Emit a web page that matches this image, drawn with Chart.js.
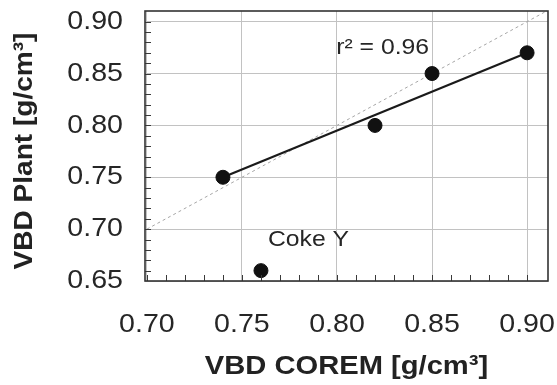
<!DOCTYPE html>
<html>
<head>
<meta charset="utf-8">
<script src="https://cdn.jsdelivr.net/npm/chart.js@4/dist/chart.umd.min.js"></script>
<style>
  html, body { margin: 0; padding: 0; background: #fff; }
  #wrap { width: 557px; height: 385px; }
</style>
</head>
<body>
<div id="wrap"><canvas id="c" width="557" height="385"></canvas></div>
<script>
// Coke bulk density: COREM oven test vs. plant measurement
const coremVbd = [0.74, 0.76, 0.82, 0.85, 0.90];
const plantVbd = [0.75, 0.66, 0.80, 0.85, 0.87];

// Least-squares fit through the four coke samples (Coke Y excluded)
const fitX = [0.74, 0.90];
const fitY = [0.75, 0.87];
const fitLabel = 'r² = 0.96';

// Parity (1:1) reference line
const parityX = [0.70, 0.911];
const parityY = [0.70, 0.911];

const outlierLabel = 'Coke Y';
const outlierAnchor = { x: 0.785, y: 0.69 };
const fitLabelAnchor = { x: 0.824, y: 0.875 };

const xTicks = [0.70, 0.75, 0.80, 0.85, 0.90];
const yTicks = [0.65, 0.70, 0.75, 0.80, 0.85, 0.90];

const xTitle = 'VBD COREM [g/cm³]';
const yTitle = 'VBD Plant [g/cm³]';

const FONT = "'Liberation Sans', Arial, Helvetica, sans-serif";
const TEXT = '#262626';
const GRID = '#c2c2c2';
const GLYPH_STRETCH = 1.1;

// The typeface used here is a wide grotesque; widen canvas text horizontally.
const wideText = {
  id: 'wideText',
  beforeInit(chart) {
    const ctx = chart.ctx;
    const fill = ctx.fillText.bind(ctx);
    const measure = ctx.measureText.bind(ctx);
    ctx.measureText = function (t) {
      const m = measure(t);
      return {
        width: m.width * GLYPH_STRETCH,
        actualBoundingBoxAscent: m.actualBoundingBoxAscent,
        actualBoundingBoxDescent: m.actualBoundingBoxDescent,
        actualBoundingBoxLeft: m.actualBoundingBoxLeft * GLYPH_STRETCH,
        actualBoundingBoxRight: m.actualBoundingBoxRight * GLYPH_STRETCH,
        fontBoundingBoxAscent: m.fontBoundingBoxAscent,
        fontBoundingBoxDescent: m.fontBoundingBoxDescent
      };
    };
    ctx.fillText = function (t, x, y) {
      ctx.save();
      ctx.translate(x, y);
      ctx.scale(GLYPH_STRETCH, 1);
      fill(t, 0, 0);
      ctx.restore();
    };
  }
};

// Frame around the plot, small inward ticks every 0.01, annotations and y title
const frameAndTicks = {
  id: 'frameAndTicks',
  afterDatasetsDraw(chart) {
    const { ctx, chartArea: a, scales: { x, y } } = chart;
    ctx.save();
    ctx.strokeStyle = '#3a3a3a';
    ctx.lineWidth = 1;
    ctx.beginPath();
    for (let i = 60; i <= 95; i++) {
      const px = Math.round(x.getPixelForValue(i / 100)) + 0.5;
      if (px > a.left + 2 && px < a.right - 2) {
        ctx.moveTo(px, a.bottom);
        ctx.lineTo(px, a.bottom - 6);
      }
      const py = Math.round(y.getPixelForValue(i / 100)) + 0.5;
      if (py > a.top + 2 && py < a.bottom - 2) {
        ctx.moveTo(a.left, py);
        ctx.lineTo(a.left + 6, py);
      }
    }
    ctx.stroke();
    ctx.lineWidth = 1.6;
    ctx.strokeStyle = '#333';
    ctx.strokeRect(a.left, a.top, a.right - a.left, a.bottom - a.top);
    ctx.restore();
  },
  afterDraw(chart) {
    const { ctx, chartArea: a, scales: { x, y } } = chart;
    ctx.save();
    ctx.fillStyle = TEXT;
    ctx.font = '22.5px ' + FONT;
    ctx.textAlign = 'center';
    ctx.textBaseline = 'middle';
    ctx.fillText(fitLabel, x.getPixelForValue(fitLabelAnchor.x), y.getPixelForValue(fitLabelAnchor.y));
    ctx.fillText(outlierLabel, x.getPixelForValue(outlierAnchor.x), y.getPixelForValue(outlierAnchor.y));
    ctx.restore();

    ctx.save();
    ctx.fillStyle = '#222';
    ctx.font = 'bold 25.5px ' + FONT;
    ctx.textAlign = 'center';
    ctx.textBaseline = 'middle';
    ctx.translate(25, (a.top + a.bottom) / 2 + 5);
    ctx.rotate(-Math.PI / 2);
    ctx.fillText(yTitle, 0, 0);
    ctx.restore();
  }
};

const pts = coremVbd.map((v, i) => ({ x: v, y: plantVbd[i] }));

new Chart(document.getElementById('c'), {
  type: 'scatter',
  data: {
    datasets: [
      {
        data: pts,
        backgroundColor: '#111',
        borderColor: '#111',
        pointRadius: 7,
        pointHoverRadius: 7,
        order: 0
      },
      {
        type: 'line',
        data: fitX.map((v, i) => ({ x: v, y: fitY[i] })),
        borderColor: '#1a1a1a',
        borderWidth: 2.2,
        pointRadius: 0,
        fill: false,
        order: 1
      },
      {
        type: 'line',
        data: parityX.map((v, i) => ({ x: v, y: parityY[i] })),
        borderColor: '#a6a6a6',
        borderWidth: 1,
        borderDash: [3, 3],
        pointRadius: 0,
        fill: false,
        order: 2
      }
    ]
  },
  options: {
    responsive: false,
    animation: false,
    events: [],
    layout: { padding: { top: 11, right: 9, left: 0, bottom: 0 } },
    plugins: { legend: { display: false }, tooltip: { enabled: false } },
    scales: {
      x: {
        type: 'linear',
        min: 0.699,
        max: 0.911,
        afterBuildTicks: s => { s.ticks = xTicks.map(v => ({ value: v })); },
        afterFit: s => { s.height = 104; s.paddingLeft = 0; s.paddingRight = 0; },
        border: { display: false },
        grid: { color: GRID, lineWidth: 1, borderDash: [1, 2], drawTicks: false },
        ticks: {
          padding: 28,
          color: TEXT,
          font: { family: FONT, size: 26 },
          maxRotation: 0,
          callback: v => Number(v).toFixed(2)
        },
        title: {
          display: true,
          text: xTitle,
          color: '#222',
          font: { family: FONT, size: 26.5, weight: 'bold' },
          padding: { top: 0, bottom: 2 }
        }
      },
      y: {
        type: 'linear',
        min: 0.65,
        max: 0.9103,
        afterBuildTicks: s => { s.ticks = yTicks.map(v => ({ value: v })); },
        afterFit: s => { s.width = 145; s.paddingTop = 0; s.paddingBottom = 0; },
        border: { display: false },
        grid: { color: GRID, lineWidth: 1, borderDash: [1, 2], drawTicks: false },
        ticks: {
          padding: 22,
          color: TEXT,
          font: { family: FONT, size: 26 },
          callback: v => Number(v).toFixed(2)
        },
        title: { display: false }
      }
    }
  },
  plugins: [wideText, frameAndTicks]
});
</script>
</body>
</html>
